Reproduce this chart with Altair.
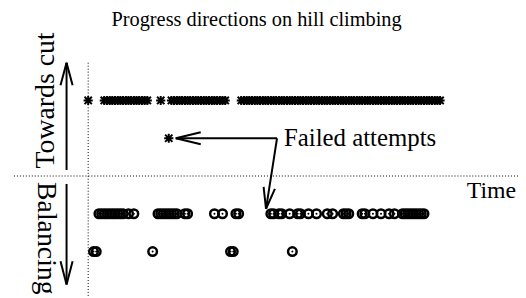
import altair as alt
import pandas as pd

# ---- data (time steps) ----
star_times = [0,
              6, 7, 8, 9, 10, 11, 12, 13, 14, 15, 16, 17, 18, 19, 20, 21, 22,
              27,
              31, 32, 33, 34, 35, 36, 37, 38, 39, 40, 41, 42, 43, 44, 45, 46, 47, 48, 49, 50, 51,
              57, 58, 59, 60, 61, 62, 63, 64, 65, 66, 67, 68, 69, 70, 71, 72, 73, 74, 75,
              76, 77, 78, 79, 80, 81, 82, 83, 84, 85, 86, 87, 88, 89, 90, 91, 92, 93, 94,
              95, 96, 97, 98, 99, 100, 101, 102, 103, 104, 105, 106, 107, 108, 109, 110,
              111, 112, 113, 114, 115, 116, 117, 118, 119, 120, 121, 122, 123, 124, 125,
              126, 127, 128, 129, 130, 131]
failed_times = [30]
balance_times_1 = [4, 5, 6, 7, 8, 9, 10, 11, 12, 13, 15, 17,
                   26, 27, 28, 29, 30, 31, 32, 33, 36, 37,
                   47, 50, 55, 56,
                   68, 69, 71, 72, 75, 78, 79, 82, 85, 89, 91, 95, 96, 97,
                   102, 103, 106, 109, 112, 114, 117, 118, 119, 120, 121, 122, 123, 124, 125]
balance_times_2 = [2, 3, 24, 53, 54, 76]

levels = {"cut": 2, "failed": 1, "bal1": -1, "bal2": -2}

# annotation arrows (segments in data units: t, level -> t2, level2)
seg_t = [-8.05, -8.05, -8.05, -8.05, -8.05, -8.05,
         32.6, 32.6, 32.6, 70.3, 66.2, 66.2]
seg_l = [0.16, 3.0, 3.0, -0.21, -2.87, -2.87,
         1.0, 1.0, 1.0, 1.0, -0.87, -0.87]
seg_t2 = [-8.05, -10.3, -5.8, -8.05, -10.3, -5.8,
          70.3, 41.9, 41.9, 66.2, 69.5, 65.3]
seg_l2 = [3.0, 2.4, 2.4, -2.87, -2.26, -2.26,
          1.0, 1.16, 0.84, -0.87, -0.34, -0.29]

label_text = ["Towards cut", "Balancing", "Failed attempts", "Time"]
label_t = [-15.6, -15.6, 72.9, 159.3]
label_l = [2.0, -0.16, 1.0, -0.58]
label_size = [28, 28, 25, 24]

XDOM = [-28, 160]
YDOM = [-3.2, 3.0]
FONT = "Liberation Serif"

def X(field="t"):
    return alt.X(f"{field}:Q", scale=alt.Scale(domain=XDOM, nice=False, zero=False), axis=None)

def Y(field="lvl"):
    return alt.Y(f"{field}:Q", scale=alt.Scale(domain=YDOM, nice=False, zero=False), axis=None)

stars = pd.DataFrame({"t": star_times + failed_times,
                      "lvl": [levels["cut"]] * len(star_times) + [levels["failed"]] * len(failed_times)})
circles = pd.DataFrame({"t": balance_times_1 + balance_times_2,
                        "lvl": [levels["bal1"]] * len(balance_times_1) + [levels["bal2"]] * len(balance_times_2)})
segs = pd.DataFrame({"t": seg_t, "lvl": seg_l, "t2": seg_t2, "lvl2": seg_l2})
labels = pd.DataFrame({"text": label_text, "t": label_t, "lvl": label_l})

STAR = "M -1 0 L 1 0 M 0 -1 L 0 1 M -0.8 -0.8 L 0.8 0.8 M -0.8 0.8 L 0.8 -0.8"

star_layer = alt.Chart(stars).mark_point(
    shape=STAR, filled=False, strokeWidth=2, size=85, color="black", opacity=1
).encode(x=X(), y=Y())

circle_layer = alt.Chart(circles).mark_point(
    shape="circle", filled=False, strokeWidth=2.5, size=75, color="black", opacity=1
).encode(x=X(), y=Y())

dot_layer = alt.Chart(circles).mark_point(
    shape="circle", filled=True, size=4, color="black", opacity=1
).encode(x=X(), y=Y())

vline = alt.Chart(pd.DataFrame({"t": [0]})).mark_rule(
    color="black", strokeWidth=1, strokeDash=[1, 2]
).encode(x=X())

hline = alt.Chart(pd.DataFrame({"lvl": [0]})).mark_rule(
    color="black", strokeWidth=1, strokeDash=[1, 2]
).encode(y=Y())

arrows = alt.Chart(segs).mark_rule(color="black", strokeWidth=2).encode(
    x=X(), y=Y(), x2="t2:Q", y2="lvl2:Q"
)

def label(i, **kw):
    return alt.Chart(labels.iloc[[i]]).mark_text(
        font=FONT, fontSize=label_size[i], color="black", **kw
    ).encode(x=X(), y=Y(), text="text:N")

towards = label(0, angle=270, align="center", baseline="middle")
balancing = label(1, angle=90, align="left", baseline="middle")
failed = label(2, align="left", baseline="middle")
time_lbl = label(3, align="right", baseline="alphabetic")

chart = alt.layer(
    vline, hline, arrows, star_layer, circle_layer, dot_layer,
    towards, balancing, failed, time_lbl
).properties(
    width=509, height=236,
    title=alt.TitleParams("Progress directions on hill climbing", font=FONT, fontSize=20.5,
                          fontWeight="normal", color="black", offset=17, dx=-9, dy=15),
    autosize=alt.AutoSizeParams(type="none"),
    padding={"left": 5, "top": 54, "right": 0, "bottom": 0},
).configure_view(stroke=None)

chart.save("out.html", embed_options={"renderer": "svg", "actions": False})
